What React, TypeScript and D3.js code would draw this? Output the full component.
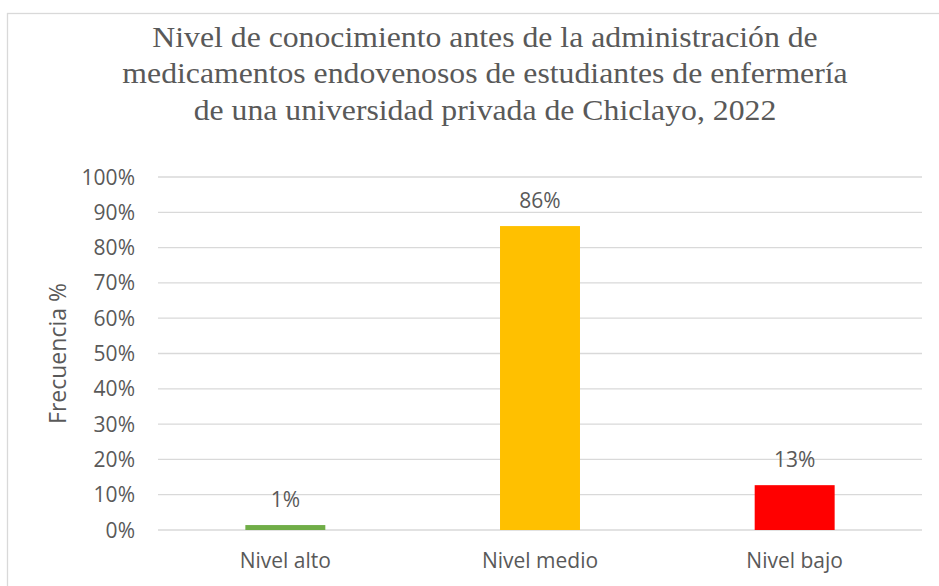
import React from "react";
import * as d3 from "d3";

const titleLines = [
  "Nivel de conocimiento antes de la administración de",
  "medicamentos endovenosos de estudiantes de enfermería",
  "de una universidad privada de Chiclayo, 2022",
];
const categories = ["Nivel alto", "Nivel medio", "Nivel bajo"];
const values = [1.4, 86.1, 12.7];
const labels = ["1%", "86%", "13%"];
const colors = ["#70AD47", "#FFC000", "#FF0000"];
const yTicks = [0, 10, 20, 30, 40, 50, 60, 70, 80, 90, 100];
const yTitle = "Frecuencia %";

export default function App() {
  const W = 939, H = 586;
  const left = 158, right = 922, top = 177, bottom = 530;
  const x = d3.scaleBand<string>().domain(categories).range([left, right]).paddingInner(0.686).paddingOuter(0.343);
  const y = d3.scaleLinear().domain([0, 100]).range([bottom, top]);
  const text = "#595959";
  const sans = "'Open Sans', sans-serif";
  const tcx = 485;
  return (
    <svg width={W} height={H} style={{ position: "absolute", left: 0, top: 0, background: "#fff" }}>
      <rect x={7.5} y={13.5} width={1200} height={1200} fill="#fff" stroke="#D9D9D9" strokeWidth={1.3} />
      <g transform={`translate(${tcx},0) scale(1.095,1)`}>
        {titleLines.map((t, i) => (
          <text key={i} x={0} y={47 + i * 36.5} textAnchor="middle" fontFamily="'Liberation Serif', 'Times New Roman', serif" fontSize={29} fill={text}>{t}</text>
        ))}
      </g>
      {yTicks.map((t) => (
        <g key={t}>
          <line x1={left} x2={right} y1={y(t)} y2={y(t)} stroke="#D9D9D9" strokeWidth={1.3} />
          <text x={135} y={y(t)} dy="0.36em" textAnchor="end" fontFamily={sans} fontSize={21} fill={text}>{t}%</text>
        </g>
      ))}
      {categories.map((c, i) => {
        const bx = x(c)!;
        const bw = x.bandwidth();
        return (
          <g key={c}>
            <rect x={bx} y={y(values[i])} width={bw} height={y(0) - y(values[i])} fill={colors[i]} />
            <text x={bx + bw / 2} y={y(values[i]) - 18} textAnchor="middle" fontFamily={sans} fontSize={21} fill={text}>{labels[i]}</text>
            <text x={bx + bw / 2} y={568} textAnchor="middle" fontFamily={sans} fontSize={21} fill={text}>{c}</text>
          </g>
        );
      })}
      <text transform={`translate(66,${(top + bottom) / 2}) rotate(-90)`} textAnchor="middle" fontFamily={sans} fontSize={23} fill={text}>{yTitle}</text>
    </svg>
  );
}
